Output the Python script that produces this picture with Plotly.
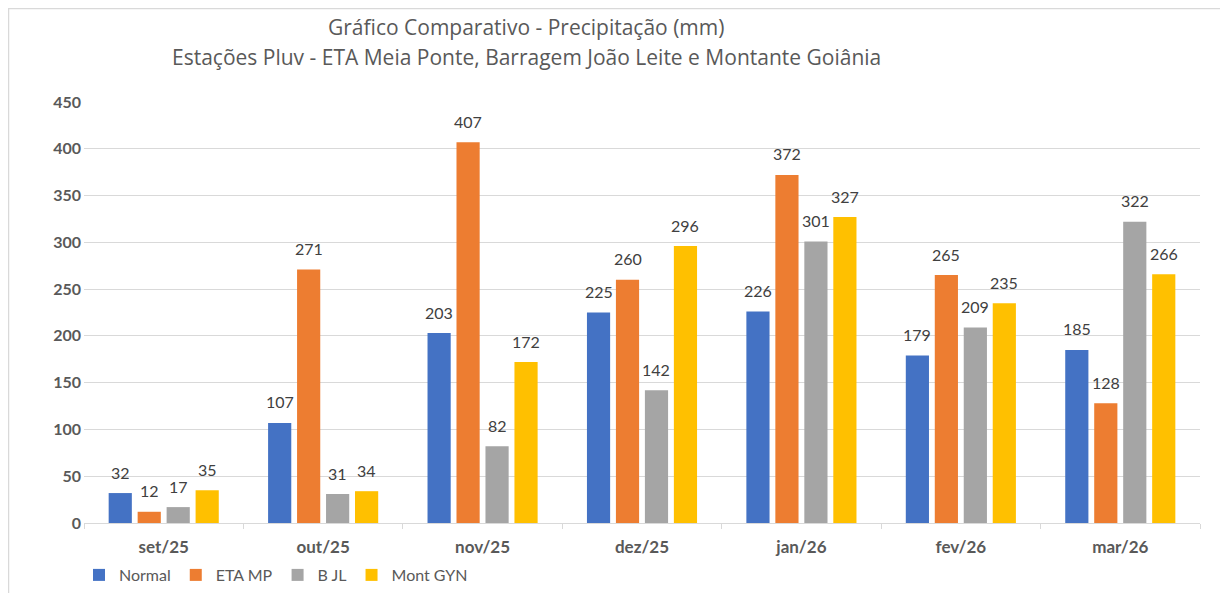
import plotly.graph_objects as go

categories = ["set/25", "out/25", "nov/25", "dez/25", "jan/26", "fev/26", "mar/26"]
series_names = ["Normal", "ETA MP", "B JL", "Mont GYN"]
normal = [32, 107, 203, 225, 226, 179, 185]
eta_mp = [12, 271, 407, 260, 372, 265, 128]
b_jl = [17, 31, 82, 142, 301, 209, 322]
mont_gyn = [35, 34, 172, 296, 327, 235, 266]
colors = ["#4472C4", "#ED7D31", "#A5A5A5", "#FFC000"]
y_ticks = [0, 50, 100, 150, 200, 250, 300, 350, 400, 450]

FONT = "Lato"
TFONT = "Open Sans"
all_series = [normal, eta_mp, b_jl, mont_gyn]

# page has an 8px body margin; coordinates below are relative to the figure
W, H = 1220, 585
ML, MR, MT, MB = 76, 28, 94, 70
plot_w = W - ML - MR
ph = H - MT - MB
cat_w = plot_w / len(categories)
bargap = 0.273
slot = (1 - bargap) * cat_w / len(all_series)

fig = go.Figure()
for name, vals, col in zip(series_names, all_series, colors):
    fig.add_trace(go.Bar(x=categories, y=vals, name=name, marker_color=col,
                         marker_line_width=0))

annotations = []
for i, vals in enumerate(all_series):
    for c, v in zip(categories, vals):
        annotations.append(dict(x=c, y=v, xref="x", yref="y", text=str(v),
                                showarrow=False, yanchor="middle",
                                xshift=(i - 1.5) * slot, yshift=21,
                                font=dict(family=FONT, size=16, color="#404040")))

title_x = (518 - ML) / plot_w
annotations.append(dict(xref="paper", yref="paper", x=title_x, y=1 + (MT - 19) / ph,
                        text="Gráfico Comparativo - Precipitação (mm)", showarrow=False,
                        xanchor="center", yanchor="middle",
                        font=dict(family=TFONT, size=21, color="#595959")))
annotations.append(dict(xref="paper", yref="paper", x=title_x, y=1 + (MT - 49) / ph,
                        text="Estações Pluv - ETA Meia Ponte, Barragem João Leite e Montante Goiânia",
                        showarrow=False, xanchor="center", yanchor="middle",
                        font=dict(family=TFONT, size=21, color="#595959")))

fig.update_layout(
    width=W, height=H,
    margin=dict(l=ML, r=MR, t=MT, b=MB, autoexpand=False),
    paper_bgcolor="white", plot_bgcolor="white",
    barmode="group", bargap=bargap, bargroupgap=0.2,
    font=dict(family=FONT, color="#595959"),
    showlegend=True,
    legend=dict(orientation="h", x=(71 - ML) / plot_w, xanchor="left",
                y=-(567 - (H - MB)) / ph, yanchor="middle",
                font=dict(family=FONT, size=16, color="#595959"),
                itemwidth=30, tracegroupgap=0),
    annotations=annotations,
    shapes=[dict(type="rect", xref="paper", yref="paper",
                 x0=(0.5 - ML) / plot_w, x1=(W + 5 - ML) / plot_w,
                 y0=-(H + 5 - (H - MB)) / ph, y1=1 + (MT - 0.5) / ph,
                 line=dict(color="#D9D9D9", width=1.5), layer="below")],
)
fig.update_xaxes(
    type="category", showgrid=False, showline=True, linecolor="#D9D9D9", linewidth=1,
    ticks="outside", tickson="boundaries", ticklen=5, tickcolor="#D9D9D9",
    ticklabelstandoff=9,
    tickfont=dict(family=FONT, size=17, color="#595959", weight="bold"),
)
fig.update_yaxes(
    range=[0, 450], tickvals=y_ticks, showgrid=True, gridcolor="#D9D9D9", gridwidth=1,
    zeroline=False, showline=False, ticks="", ticklabelstandoff=2,
    tickfont=dict(family=FONT, size=16, color="#595959", weight="bold"),
)

fig.write_html("out.html")
